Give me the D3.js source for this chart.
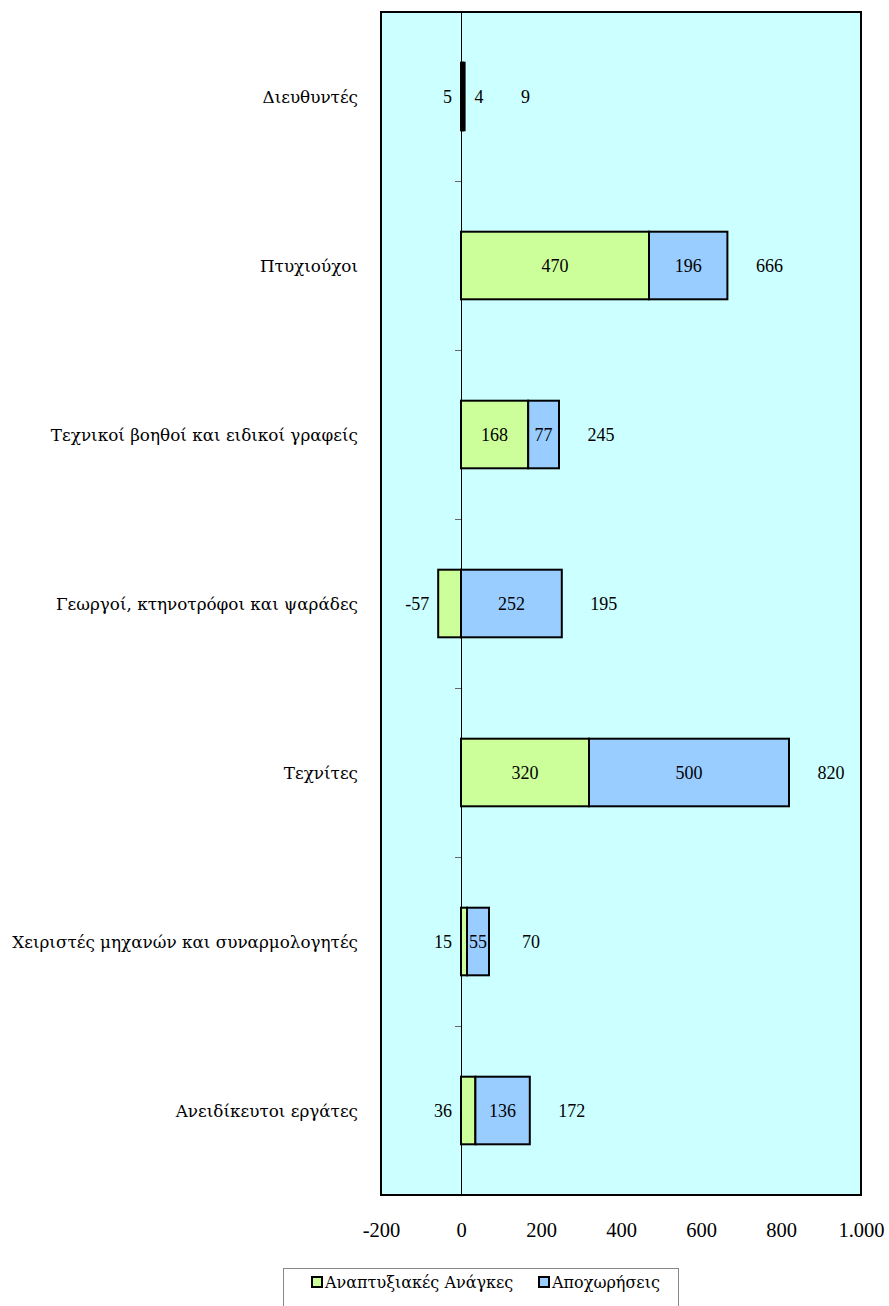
<!DOCTYPE html>
<html lang="el">
<head>
  <meta charset="UTF-8">
  <title>Chart</title>
  <script src="https://cdn.jsdelivr.net/npm/d3@7"></script>
  <style>
    body { margin: 0; background: #fff; }
    text { font-family: "Liberation Serif", "Times New Roman", serif; fill: #000; }
    text.greek { font-family: "DejaVu Serif", serif; }
  </style>
</head>
<body>
  <svg id="chart" width="889" height="1306"></svg>
  <script>
    // data
    const categories = ["Διευθυντές", "Πτυχιούχοι", "Τεχνικοί βοηθοί και ειδικοί γραφείς",
      "Γεωργοί, κτηνοτρόφοι και ψαράδες", "Τεχνίτες", "Χειριστές μηχανών και συναρμολογητές",
      "Ανειδίκευτοι εργάτες"];
    const anaptyxiakes = [5, 470, 168, -57, 320, 15, 36];
    const apoxoriseis = [4, 196, 77, 252, 500, 55, 136];
    const seriesNames = ["Αναπτυξιακές Ανάγκες", "Αποχωρήσεις"];
    const colors = ["#CCFF99", "#99CCFF"];
    const xTicks = [-200, 0, 200, 400, 600, 800, 1000];

    const locale = d3.formatLocale({decimal: ",", thousands: ".", grouping: [3], currency: ["", "€"], minus: "-"});
    const fmt = locale.format(",d");

    const svg = d3.select("#chart");
    const pLeft = 381, pRight = 861, pTop = 12, pBottom = 1195;

    const x = d3.scaleLinear().domain([-200, 1000]).range([pLeft, pRight]);
    const y = d3.scaleBand().domain(categories).range([pTop, pBottom]).paddingInner(0.6).paddingOuter(0.3);
    const band = d3.scaleBand().domain(categories).range([pTop, pBottom]);

    // plot background
    svg.append("rect")
      .attr("x", pLeft).attr("y", pTop)
      .attr("width", pRight - pLeft).attr("height", pBottom - pTop)
      .attr("fill", "#CCFFFF");

    // zero line
    svg.append("line")
      .attr("x1", x(0) + 0.5).attr("x2", x(0) + 0.5)
      .attr("y1", pTop).attr("y2", pBottom)
      .attr("stroke", "#000").attr("stroke-width", 1);

    // category tick marks on the zero line
    svg.selectAll(".ctick")
      .data(categories.slice(1))
      .join("line")
      .attr("class", "ctick")
      .attr("x1", x(0) - 6).attr("x2", x(0))
      .attr("y1", d => Math.round(band(d)) + 0.5).attr("y2", d => Math.round(band(d)) + 0.5)
      .attr("stroke", "#666");

    // stacked rows
    const rows = categories.map((c, i) => {
      const a = anaptyxiakes[i], b = apoxoriseis[i];
      const a0 = Math.min(0, a), a1 = Math.max(0, a);
      const b0 = a > 0 ? a : 0, b1 = b0 + b;
      return {c, a, b, a0, a1, b0, b1, total: a + b};
    });

    svg.selectAll(".barA")
      .data(rows)
      .join("rect")
      .attr("class", "barA")
      .attr("x", d => x(d.a0))
      .attr("y", d => y(d.c))
      .attr("width", d => x(d.a1) - x(d.a0))
      .attr("height", y.bandwidth())
      .attr("fill", colors[0])
      .attr("stroke", "#000").attr("stroke-width", 2);

    svg.selectAll(".barB")
      .data(rows)
      .join("rect")
      .attr("class", "barB")
      .attr("x", d => x(d.b0))
      .attr("y", d => y(d.c))
      .attr("width", d => x(d.b1) - x(d.b0))
      .attr("height", y.bandwidth())
      .attr("fill", colors[1])
      .attr("stroke", "#000").attr("stroke-width", 2);

    const cy = d => y(d.c) + y.bandwidth() / 2;

    // labels of first series: inside if room, otherwise to the left of the bar
    svg.selectAll(".labA")
      .data(rows)
      .join("text")
      .attr("class", "labA")
      .attr("font-size", 18)
      .attr("dominant-baseline", "central")
      .attr("y", cy)
      .each(function(d) {
        const w = x(d.a1) - x(d.a0);
        const t = d3.select(this).text(fmt(d.a));
        if (w > 40) {
          t.attr("x", (x(d.a0) + x(d.a1)) / 2).attr("text-anchor", "middle");
        } else {
          t.attr("x", x(Math.min(d.a0, d.b0)) - 9).attr("text-anchor", "end");
        }
      });

    // labels of second series
    const labB = svg.selectAll(".labB")
      .data(rows)
      .join("text")
      .attr("class", "labB")
      .attr("font-size", 18)
      .attr("dominant-baseline", "central")
      .attr("y", cy)
      .each(function(d) {
        const w = x(d.b1) - x(d.b0);
        const t = d3.select(this).text(fmt(d.b));
        if (w > 15) {
          t.attr("x", (x(d.b0) + x(d.b1)) / 2).attr("text-anchor", "middle");
        } else {
          t.attr("x", x(d.b1) + 10).attr("text-anchor", "start");
        }
      });

    // totals to the right of the bar
    const labRight = labB.nodes().map(n => n.getBBox().x + n.getBBox().width);
    svg.selectAll(".labT")
      .data(rows)
      .join("text")
      .attr("class", "labT")
      .attr("font-size", 18)
      .attr("dominant-baseline", "central")
      .attr("text-anchor", "middle")
      .attr("x", (d, i) => Math.max(x(d.b1), labRight[i]) + 42)
      .attr("y", cy)
      .text(d => fmt(d.total));

    // plot border
    svg.append("rect")
      .attr("x", pLeft).attr("y", pTop)
      .attr("width", pRight - pLeft).attr("height", pBottom - pTop)
      .attr("fill", "none")
      .attr("stroke", "#000").attr("stroke-width", 2);

    // category labels
    svg.selectAll(".cat")
      .data(categories)
      .join("text")
      .attr("class", "cat greek")
      .attr("x", 358)
      .attr("y", d => band(d) + band.bandwidth() / 2)
      .attr("dominant-baseline", "central")
      .attr("text-anchor", "end")
      .attr("font-size", 16.8)
      .text(d => d);

    // x axis
    const xAxis = d3.axisBottom(x).tickValues(xTicks).tickSize(0).tickPadding(0).tickFormat(fmt);
    const gx = svg.append("g")
      .attr("transform", `translate(0,${pBottom})`)
      .call(xAxis);
    gx.select(".domain").remove();
    gx.selectAll("text")
      .attr("y", 42)
      .attr("dy", null)
      .attr("font-size", 20.5);

    // legend
    svg.append("rect")
      .attr("x", 283.5).attr("y", 1268.5)
      .attr("width", 395).attr("height", 50)
      .attr("fill", "#fff")
      .attr("stroke", "#888");

    const legX = [312, 539];
    const leg = svg.selectAll(".leg")
      .data(seriesNames)
      .join("g")
      .attr("class", "leg")
      .attr("transform", (d, i) => `translate(${legX[i]},1288)`);
    leg.append("rect")
      .attr("x", 0).attr("y", -11)
      .attr("width", 10).attr("height", 10)
      .attr("fill", (d, i) => colors[i])
      .attr("stroke", "#000").attr("stroke-width", 2);
    leg.append("text")
      .attr("class", "greek")
      .attr("x", 13).attr("y", 0)
      .attr("font-size", 16)
      .text(d => d);
  </script>
</body>
</html>
